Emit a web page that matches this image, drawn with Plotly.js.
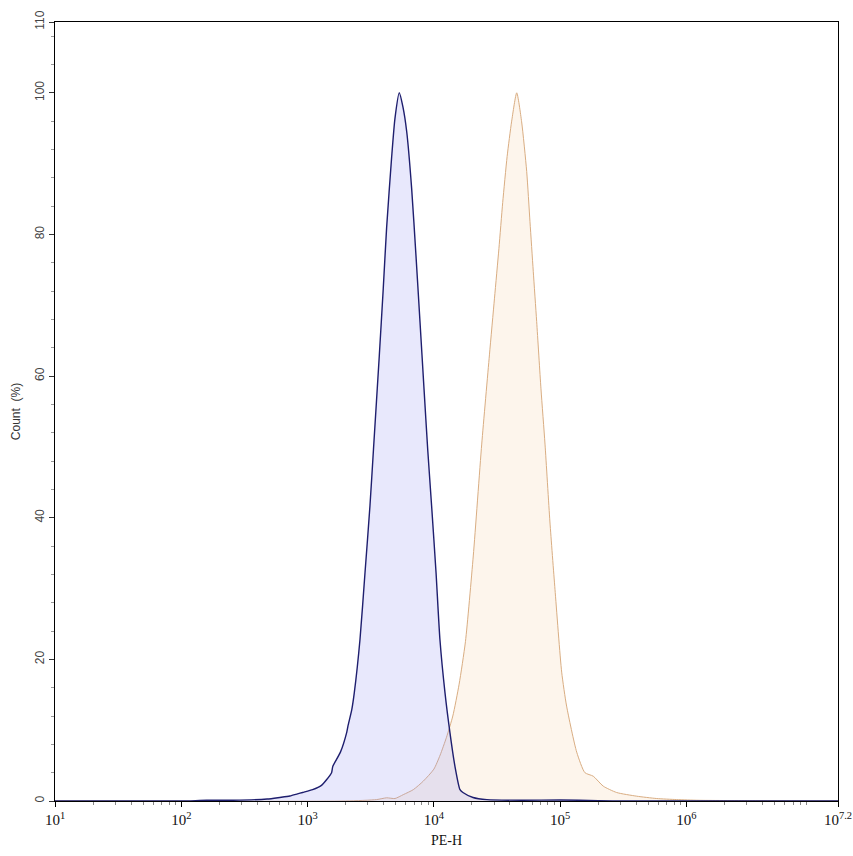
<!DOCTYPE html>
<html>
<head>
<meta charset="utf-8">
<script src="https://cdn.plot.ly/plotly-3.0.1.min.js"></script>
<style>html,body{margin:0;padding:0;background:#fff;}#chart{width:853px;height:856px;}</style>
</head>
<body>
<div id="chart"></div>
<script>
// PE-H intensity as log10 exponents, count in %
var blueLogX = [1.0, 2.0, 2.2, 2.41, 2.68, 2.78, 2.86, 2.92, 2.96, 3.04, 3.11, 3.15, 3.19, 3.20, 3.26, 3.31, 3.32, 3.35, 3.37, 3.415, 3.455, 3.494, 3.522, 3.568, 3.599, 3.626, 3.666, 3.692, 3.726, 3.755, 3.785, 3.824, 3.858, 3.89, 3.922, 3.951, 3.982, 4.017, 4.048, 4.088, 4.127, 4.167, 4.207, 4.23, 4.31, 4.42, 4.7, 5.0, 5.3, 5.5, 7.2];
var blueY    = [0, 0, 0.1, 0.1, 0.28, 0.5, 0.7, 1.0, 1.2, 1.6, 2.2, 3.0, 4.0, 4.9, 6.9, 9.7, 10.6, 12.9, 15.3, 22.8, 32.3, 41.7, 49.7, 62.9, 72.3, 81.0, 91.0, 96.4, 100, 98.0, 94.5, 86.5, 77.1, 67.7, 58.2, 49.7, 41.7, 32.3, 22.8, 15.3, 9.7, 4.9, 1.6, 1.2, 0.5, 0.2, 0.1, 0.15, 0.05, 0, 0];

var orangeLogX = [1.0, 3.3, 3.547, 3.626, 3.692, 3.758, 3.837, 3.916, 4.0, 4.05, 4.1, 4.15, 4.2, 4.25, 4.312, 4.379, 4.44, 4.48, 4.515, 4.545, 4.58, 4.616, 4.656, 4.695, 4.735, 4.761, 4.787, 4.814, 4.848, 4.88, 4.919, 4.959, 5.012, 5.051, 5.131, 5.196, 5.262, 5.341, 5.447, 5.606, 5.764, 5.922, 6.1, 6.5, 7.0, 7.2];
var orangeY    = [0, 0, 0.2, 0.45, 0.35, 0.9, 1.6, 2.8, 4.5, 6.5, 9.0, 12.0, 16.5, 22.5, 34.6, 50.4, 63.0, 71.0, 78.0, 84.5, 91.0, 96.0, 100, 95.9, 88.9, 81.8, 74.8, 67.7, 58.2, 50.4, 39.4, 29.9, 18.2, 13.4, 6.9, 4.0, 3.5, 2.1, 1.2, 0.68, 0.35, 0.2, 0.1, 0.05, 0, 0];

var xTickExp   = [1, 2, 3, 4, 5, 6, 7.2];
var xTickText  = ['10<sup>1</sup>', '10<sup>2</sup>', '10<sup>3</sup>', '10<sup>4</sup>', '10<sup>5</sup>', '10<sup>6</sup>', '10<sup>7.2</sup>'];
var yTickVals  = [0, 20, 40, 60, 80, 100, 110];
var yTickText  = ['0', '20', '40', '60', '80', '100', '110'];

function toLin(a){ return a.map(function(v){ return Math.pow(10, v); }); }

var minorX = [];
for (var d = 1; d <= 7; d++) {
  for (var m = 2; m <= 9; m++) {
    var v = m * Math.pow(10, d);
    if (Math.log10(v) < 7.2) minorX.push(v);
  }
}

var traces = [
  {
    x: toLin(orangeLogX), y: orangeY, type: 'scatter', mode: 'lines',
    line: {color: '#d9ad82', width: 1, shape: 'spline', smoothing: 0.6},
    fill: 'tozeroy', fillcolor: 'rgba(245,200,150,0.18)', hoverinfo: 'skip'
  },
  {
    x: toLin(blueLogX), y: blueY, type: 'scatter', mode: 'lines',
    line: {color: '#1e1e6e', width: 1.4, shape: 'spline', smoothing: 0.6},
    fill: 'tozeroy', fillcolor: 'rgba(150,150,240,0.22)', hoverinfo: 'skip'
  }
];

var layout = {
  width: 853, height: 856,
  margin: {l: 55, r: 15, t: 22, b: 55},
  paper_bgcolor: '#fff', plot_bgcolor: '#fff',
  showlegend: false,
  xaxis: {
    type: 'log', range: [1, 7.2],
    tickmode: 'array', tickvals: toLin(xTickExp), ticktext: xTickText,
    ticks: 'outside', ticklen: 5, tickcolor: '#000', tickwidth: 1,
    showline: true, linecolor: '#000', linewidth: 1, mirror: true,
    showgrid: false, zeroline: false,
    tickfont: {family: 'Liberation Serif, Times New Roman, serif', size: 15, color: '#111'},
    title: {text: 'PE-H', font: {family: 'Liberation Serif, Times New Roman, serif', size: 14, color: '#111'}, standoff: 8},
    minor: {tickmode: 'array', tickvals: minorX, ticks: 'outside', ticklen: 3, tickcolor: '#888', tickwidth: 1, showgrid: false}
  },
  yaxis: {
    range: [0, 110],
    tickmode: 'array', tickvals: yTickVals, ticktext: yTickText, tickangle: -90,
    ticks: 'outside', ticklen: 5, tickcolor: '#333', tickwidth: 1,
    showline: true, linecolor: '#000', linewidth: 1, mirror: true,
    showgrid: false, zeroline: false,
    tickfont: {family: 'Liberation Sans, Arial, sans-serif', size: 12, color: '#444'},
    title: {text: 'Count  (%)', font: {family: 'Liberation Sans, Arial, sans-serif', size: 12, color: '#333'}, standoff: 10},
    minor: {dtick: 4, tick0: 0, ticks: 'outside', ticklen: 3, tickcolor: '#999', tickwidth: 1, showgrid: false}
  }
};

Plotly.newPlot('chart', traces, layout, {staticPlot: true, displayModeBar: false});
</script>
</body>
</html>
